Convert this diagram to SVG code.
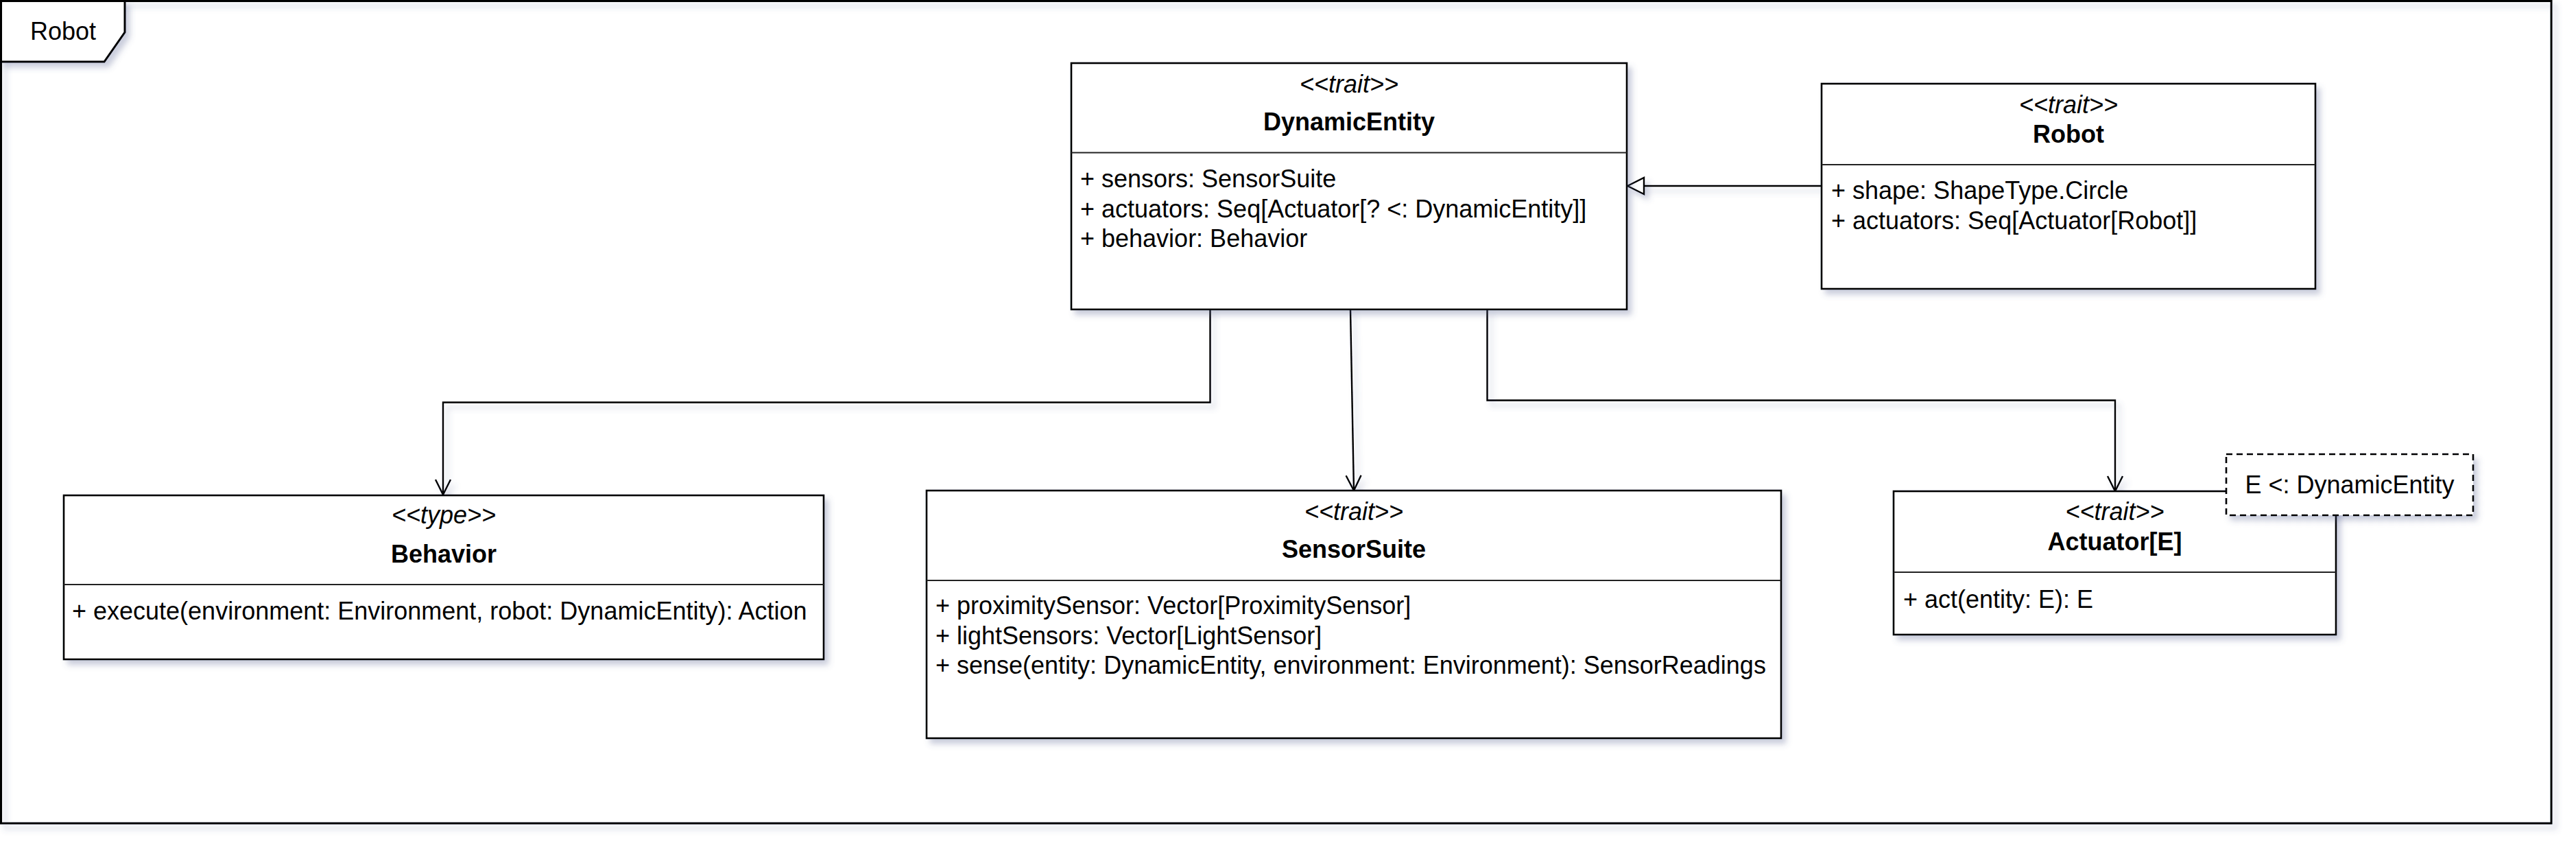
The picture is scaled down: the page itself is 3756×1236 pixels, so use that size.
<svg xmlns="http://www.w3.org/2000/svg" width="3756" height="1236" viewBox="0 0 3756 1236">
  <defs>
    <filter id="sh" filterUnits="userSpaceOnUse" x="0" y="0" width="3756" height="1236">
      <feDropShadow dx="6" dy="7" stdDeviation="4" flood-color="#4d5a8c" flood-opacity="0.3"/>
    </filter>
    <marker id="open" markerUnits="userSpaceOnUse" viewBox="0 0 26 26" markerWidth="26" markerHeight="26" refX="24" refY="13" orient="auto">
      <path d="M2,2 L24,13 L2,24" fill="none" stroke="#000" stroke-width="2.4"/>
    </marker>
    <marker id="tri" markerUnits="userSpaceOnUse" viewBox="0 0 28 28" markerWidth="28" markerHeight="28" refX="26" refY="14" orient="auto">
      <path d="M2,2 L26,14 L2,26 Z" fill="#fff" stroke="#000" stroke-width="2.4"/>
    </marker>
  </defs>
  <style>
    text { font-family: "Liberation Sans", Arial, sans-serif; font-size: 36px; fill: #000; }
    .st { font-style: italic; text-anchor: middle; }
    .nm { font-weight: bold; text-anchor: middle; }
    .mid { text-anchor: middle; }
    .box { fill: #fff; stroke: #000; stroke-width: 2.6; }
    .div { stroke: #222; stroke-width: 2; }
    .edge { fill: none; stroke: #000; stroke-width: 2.4; }
    .note { fill: #fff; stroke: #000; stroke-width: 2.6; stroke-dasharray: 9 6; }
  </style>
  <rect width="3756" height="1236" fill="#fff"/>

  <g id="frame">
    <rect x="1.5" y="1.5" width="3718.5" height="1198.5" fill="none" stroke="#000" stroke-width="3" filter="url(#sh)"/>
    <path d="M1.5,1.5 L182,1.5 L182,47 L152,90 L1.5,90 Z" fill="#fff" stroke="#000" stroke-width="3" filter="url(#sh)"/>
    <text x="92" y="58" class="mid">Robot</text>
  </g>

  <g id="connectors">
    <path class="edge" d="M1764.5,451 L1764.5,586.5 L646,586.5 L646,721" marker-end="url(#open)" filter="url(#sh)"/>
    <path class="edge" d="M1969,451 L1974,715" marker-end="url(#open)" filter="url(#sh)"/>
    <path class="edge" d="M2168.5,451 L2168.5,583.5 L3084,583.5 L3084,716" marker-end="url(#open)" filter="url(#sh)"/>
    <path class="edge" d="M2656,271 L2373,271" marker-end="url(#tri)" filter="url(#sh)"/>
  </g>

  <g id="DynamicEntity">
    <rect class="box" x="1562" y="92" width="810" height="359" filter="url(#sh)"/>
    <line class="div" x1="1562" y1="222.5" x2="2372" y2="222.5"/>
    <text x="1967" y="135" class="st">&lt;&lt;trait&gt;&gt;</text>
    <text x="1967" y="190" class="nm">DynamicEntity</text>
    <text x="1575" y="273">+ sensors: SensorSuite</text>
    <text x="1575" y="316.5">+ actuators: Seq[Actuator[? &lt;: DynamicEntity]]</text>
    <text x="1575" y="360">+ behavior: Behavior</text>
  </g>

  <g id="Robot">
    <rect class="box" x="2656" y="122" width="720" height="299" filter="url(#sh)"/>
    <line class="div" x1="2656" y1="240" x2="3376" y2="240"/>
    <text x="3016" y="165" class="st">&lt;&lt;trait&gt;&gt;</text>
    <text x="3016" y="208" class="nm">Robot</text>
    <text x="2670" y="290">+ shape: ShapeType.Circle</text>
    <text x="2670" y="334">+ actuators: Seq[Actuator[Robot]]</text>
  </g>

  <g id="Behavior">
    <rect class="box" x="93" y="722" width="1108" height="239" filter="url(#sh)"/>
    <line class="div" x1="93" y1="852" x2="1201" y2="852"/>
    <text x="647" y="763" class="st">&lt;&lt;type&gt;&gt;</text>
    <text x="647" y="820" class="nm">Behavior</text>
    <text x="105" y="903">+ execute(environment: Environment, robot: DynamicEntity): Action</text>
  </g>

  <g id="SensorSuite">
    <rect class="box" x="1351" y="715" width="1246" height="361" filter="url(#sh)"/>
    <line class="div" x1="1351" y1="846" x2="2597" y2="846"/>
    <text x="1974" y="758" class="st">&lt;&lt;trait&gt;&gt;</text>
    <text x="1974" y="813" class="nm">SensorSuite</text>
    <text x="1364" y="895">+ proximitySensor: Vector[ProximitySensor]</text>
    <text x="1364" y="938.5">+ lightSensors: Vector[LightSensor]</text>
    <text x="1364" y="982">+ sense(entity: DynamicEntity, environment: Environment): SensorReadings</text>
  </g>

  <g id="Actuator">
    <rect class="box" x="2761" y="716" width="645" height="209" filter="url(#sh)"/>
    <line class="div" x1="2761" y1="834" x2="3406" y2="834"/>
    <text x="3083.5" y="758" class="st">&lt;&lt;trait&gt;&gt;</text>
    <text x="3083.5" y="802" class="nm">Actuator[E]</text>
    <text x="2775" y="886">+ act(entity: E): E</text>
  </g>

  <g id="TypeBound">
    <rect class="note" x="3246" y="662" width="360" height="89" filter="url(#sh)"/>
    <text x="3426" y="719" class="mid">E &lt;: DynamicEntity</text>
  </g>
</svg>
